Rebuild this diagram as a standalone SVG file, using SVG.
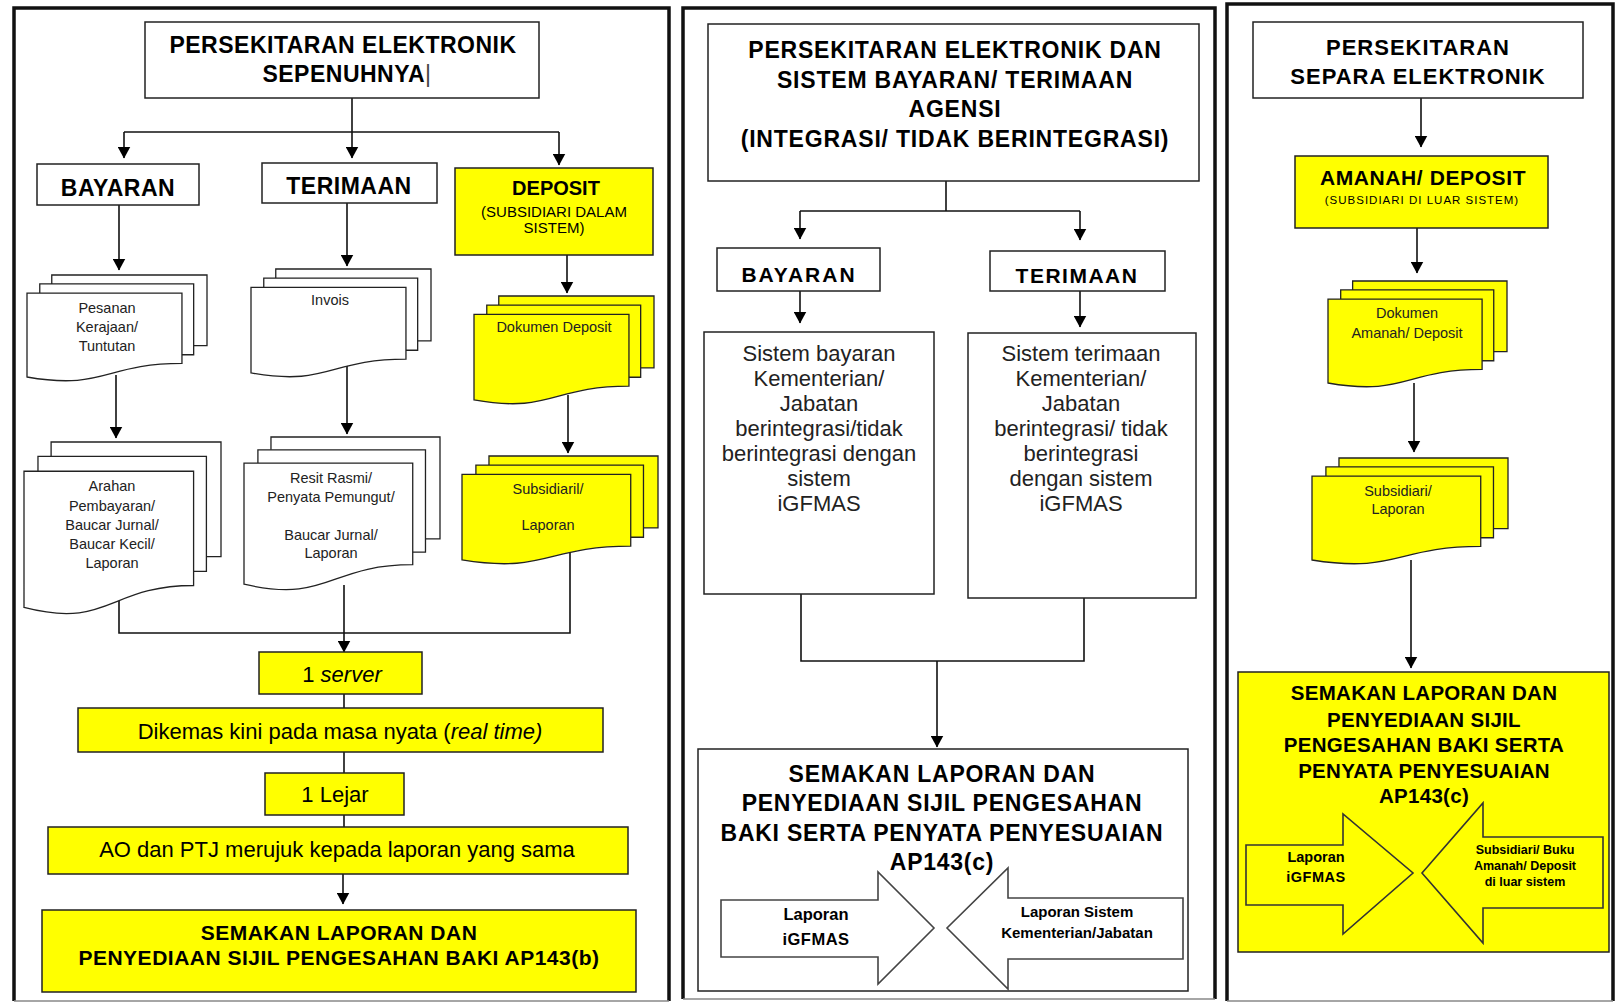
<svg xmlns="http://www.w3.org/2000/svg" xmlns:xlink="http://www.w3.org/1999/xlink" width="1617" height="1003" viewBox="0 0 1617 1003">
<style>
text{font-family:"Liberation Sans",Arial,sans-serif;fill:#000;text-anchor:middle}
.b{font-weight:bold}
.it{font-style:italic}
.frame{fill:none;stroke:#111;stroke-width:3.5}
.fbot{fill:none;stroke:#888;stroke-width:1.5}
.box{fill:#fff;stroke:#222;stroke-width:1.5}
.ybox{fill:#ff0;stroke:#222;stroke-width:1.5}
.doc{fill:#fff;stroke:#222;stroke-width:1.3}
.ydoc{fill:#ff0;stroke:#222;stroke-width:1.3}
.conn{fill:none;stroke:#111;stroke-width:1.6}
.arr{marker-end:url(#ah)}
.big{fill:#fff;stroke:#444;stroke-width:1.6}
.ybig{fill:#ff0;stroke:#333;stroke-width:1.6}
.dt{font-size:14.5px;fill:#222}
.st{font-size:22px;fill:#222}
</style>
<defs>
<marker id="ah" viewBox="0 0 12 13" refX="11.5" refY="6.5" markerWidth="12" markerHeight="13" markerUnits="userSpaceOnUse" orient="auto">
<path d="M0,0L12,6.5L0,13z" fill="#000"/>
</marker>
<symbol id="mdoc" viewBox="0 0 21600 21600" preserveAspectRatio="none" style="overflow:visible">
<path vector-effect="non-scaling-stroke" d="M2972,0H21600V14392H2972Z"/>
<path vector-effect="non-scaling-stroke" d="M1532,1815H20000V16252H1532Z"/>
<path vector-effect="non-scaling-stroke" d="M0,3675H18595V18022C9298,18022 9298,23542 0,20782Z"/>
</symbol>
</defs>
<rect x="0" y="0" width="1617" height="1003" fill="#fff"/>

<g id="frames">
<path class="frame" d="M14,1001V8H669V1001"/>
<path class="fbot" d="M14,1001H669"/>
<path class="frame" d="M683,999V8H1215V999"/>
<path class="fbot" d="M683,999H1215"/>
<path class="frame" d="M1227,1001V4H1613V1001"/>
<path class="fbot" d="M1227,1001H1613"/>
</g>

<g id="connectors">
<path class="conn" d="M352,98V132"/>
<path class="conn" d="M124,132H559"/>
<path class="conn arr" d="M124,132V158"/>
<path class="conn arr" d="M352,132V158"/>
<path class="conn arr" d="M559,132V165"/>
<path class="conn arr" d="M119,205V270"/>
<path class="conn arr" d="M347,203V266"/>
<path class="conn arr" d="M567,255V293"/>
<path class="conn arr" d="M116,375V438"/>
<path class="conn arr" d="M347,365V434"/>
<path class="conn arr" d="M568,395V453"/>
<path class="conn" d="M119,595V633H570V550"/>
<path class="conn arr" d="M344,585V652"/>
<path class="conn" d="M344,694V708"/>
<path class="conn" d="M344,752V773"/>
<path class="conn" d="M344,815V827"/>
<path class="conn arr" d="M343,874V904"/>

<path class="conn" d="M946,181V211"/>
<path class="conn" d="M800,211H1080"/>
<path class="conn arr" d="M800,211V239"/>
<path class="conn arr" d="M1080,211V240"/>
<path class="conn arr" d="M800,291V323"/>
<path class="conn arr" d="M1080,291V327"/>
<path class="conn" d="M801,594V661H1084V598"/>
<path class="conn arr" d="M937,661V747"/>

<path class="conn arr" d="M1421,98V147"/>
<path class="conn arr" d="M1417,228V273"/>
<path class="conn arr" d="M1414,383V452"/>
<path class="conn arr" d="M1411,560V668"/>
</g>

<!-- Panel 1 -->
<g id="p1-title">
<rect class="box" x="145" y="22" width="394" height="76"/>
<text class="b" x="343" y="53" font-size="23" letter-spacing="0.5">PERSEKITARAN ELEKTRONIK</text>
<text class="b" x="347" y="82" font-size="23" letter-spacing="0.5">SEPENUHNYA<tspan font-weight="normal" fill="#444">|</tspan></text>
</g>
<g id="p1-bayaran">
<rect class="box" x="37" y="164" width="162" height="41"/>
<text class="b" x="118" y="196" font-size="23" letter-spacing="0.5">BAYARAN</text>
</g>
<g id="p1-terimaan">
<rect class="box" x="262" y="163" width="175" height="40"/>
<text class="b" x="349" y="194" font-size="23" letter-spacing="0.5">TERIMAAN</text>
</g>
<g id="p1-deposit">
<rect class="ybox" x="455" y="168" width="198" height="87"/>
<text class="b" x="556" y="195" font-size="20">DEPOSIT</text>
<text x="554" y="217" font-size="15" fill="#222">(SUBSIDIARI DALAM</text>
<text x="554" y="233" font-size="15" fill="#222">SISTEM)</text>
</g>
<g id="p1-pesanan">
<use xlink:href="#mdoc" href="#mdoc" class="doc" x="27" y="275" width="180" height="106"/>
<text class="dt" x="107" y="313">Pesanan</text>
<text class="dt" x="107" y="332">Kerajaan/</text>
<text class="dt" x="107" y="351">Tuntutan</text>
</g>
<g id="p1-invois">
<use xlink:href="#mdoc" href="#mdoc" class="doc" x="251" y="269" width="180" height="108"/>
<text class="dt" x="330" y="305">Invois</text>
</g>
<g id="p1-dokdeposit">
<use xlink:href="#mdoc" href="#mdoc" class="ydoc" x="474" y="296" width="180" height="108"/>
<text class="dt" x="554" y="332">Dokumen Deposit</text>
</g>
<g id="p1-arahan">
<use xlink:href="#mdoc" href="#mdoc" class="doc" x="24" y="442" width="197" height="172"/>
<text class="dt" x="112" y="491">Arahan</text>
<text class="dt" x="112" y="511">Pembayaran/</text>
<text class="dt" x="112" y="530">Baucar Jurnal/</text>
<text class="dt" x="112" y="549">Baucar Kecil/</text>
<text class="dt" x="112" y="568">Laporan</text>
</g>
<g id="p1-resit">
<use xlink:href="#mdoc" href="#mdoc" class="doc" x="244" y="437" width="196" height="153"/>
<text class="dt" x="331" y="483">Resit Rasmi/</text>
<text class="dt" x="331" y="502">Penyata Pemungut/</text>
<text class="dt" x="331" y="540">Baucar Jurnal/</text>
<text class="dt" x="331" y="558">Laporan</text>
</g>
<g id="p1-subsidiaril">
<use xlink:href="#mdoc" href="#mdoc" class="ydoc" x="462" y="456" width="196" height="108"/>
<text class="dt" x="548" y="494">Subsidiaril/</text>
<text class="dt" x="548" y="530">Laporan</text>
</g>
<g id="p1-server">
<rect class="ybox" x="259" y="652" width="163" height="42"/>
<text x="342" y="682" font-size="22">1 <tspan class="it">server</tspan></text>
</g>
<g id="p1-dikemas">
<rect class="ybox" x="78" y="708" width="525" height="44"/>
<text x="340" y="739" font-size="22">Dikemas kini pada masa nyata (<tspan class="it">real time)</tspan></text>
</g>
<g id="p1-lejar">
<rect class="ybox" x="265" y="773" width="139" height="42"/>
<text x="335" y="802" font-size="22">1 Lejar</text>
</g>
<g id="p1-ao">
<rect class="ybox" x="48" y="827" width="580" height="47"/>
<text x="337" y="857" font-size="22">AO dan PTJ merujuk kepada laporan yang sama</text>
</g>
<g id="p1-semakan">
<rect class="ybox" x="42" y="910" width="594" height="82"/>
<text class="b" x="339" y="940" font-size="21" letter-spacing="0.5">SEMAKAN LAPORAN DAN</text>
<text class="b" x="339" y="965" font-size="21" letter-spacing="0.5">PENYEDIAAN SIJIL PENGESAHAN BAKI AP143(b)</text>
</g>

<!-- Panel 2 -->
<g id="p2-title">
<rect class="box" x="708" y="24" width="491" height="157"/>
<text class="b" x="955" y="58" font-size="23" letter-spacing="0.8">PERSEKITARAN ELEKTRONIK DAN</text>
<text class="b" x="955" y="88" font-size="23" letter-spacing="0.8">SISTEM BAYARAN/ TERIMAAN</text>
<text class="b" x="955" y="117" font-size="23" letter-spacing="0.8">AGENSI</text>
<text class="b" x="955" y="147" font-size="23" letter-spacing="0.8">(INTEGRASI/ TIDAK BERINTEGRASI)</text>
</g>
<g id="p2-bayaran">
<rect class="box" x="717" y="248" width="163" height="43"/>
<text class="b" x="799" y="282" font-size="21" letter-spacing="2">BAYARAN</text>
</g>
<g id="p2-terimaan">
<rect class="box" x="990" y="251" width="175" height="40"/>
<text class="b" x="1077" y="283" font-size="21" letter-spacing="1.5">TERIMAAN</text>
</g>
<g id="p2-sistem-bayaran">
<rect class="box" x="704" y="332" width="230" height="262"/>
<text class="st" x="819" y="361">Sistem bayaran</text>
<text class="st" x="819" y="386">Kementerian/</text>
<text class="st" x="819" y="411">Jabatan</text>
<text class="st" x="819" y="436">berintegrasi/tidak</text>
<text class="st" x="819" y="461">berintegrasi dengan</text>
<text class="st" x="819" y="486">sistem</text>
<text class="st" x="819" y="511">iGFMAS</text>
</g>
<g id="p2-sistem-terimaan">
<rect class="box" x="968" y="333" width="228" height="265"/>
<text class="st" x="1081" y="361">Sistem terimaan</text>
<text class="st" x="1081" y="386">Kementerian/</text>
<text class="st" x="1081" y="411">Jabatan</text>
<text class="st" x="1081" y="436">berintegrasi/ tidak</text>
<text class="st" x="1081" y="461">berintegrasi</text>
<text class="st" x="1081" y="486">dengan sistem</text>
<text class="st" x="1081" y="511">iGFMAS</text>
</g>
<g id="p2-semakan">
<rect class="box" x="698" y="749" width="490" height="242"/>
<text class="b" x="942" y="782" font-size="23" letter-spacing="0.75">SEMAKAN LAPORAN DAN</text>
<text class="b" x="942" y="811" font-size="23" letter-spacing="0.75">PENYEDIAAN SIJIL PENGESAHAN</text>
<text class="b" x="942" y="841" font-size="23" letter-spacing="0.75">BAKI SERTA PENYATA PENYESUAIAN</text>
<text class="b" x="942" y="870" font-size="23" letter-spacing="0.75">AP143(c)</text>
</g>
<g id="p2-laporan-igfmas">
<polygon class="big" points="721,900 878,900 878,872 934,928 878,984 878,957 721,957"/>
<text class="b" x="816" y="920" font-size="16.5">Laporan</text>
<text class="b" x="816" y="945" font-size="16.5" letter-spacing="0.5">iGFMAS</text>
</g>
<g id="p2-laporan-sistem">
<polygon class="big" points="1183,898 1008,898 1008,868 947,928 1008,989 1008,959 1183,959"/>
<text class="b" x="1077" y="917" font-size="15">Laporan Sistem</text>
<text class="b" x="1077" y="938" font-size="15">Kementerian/Jabatan</text>
</g>

<!-- Panel 3 -->
<g id="p3-title">
<rect class="box" x="1253" y="22" width="330" height="76"/>
<text class="b" x="1418" y="55" font-size="22" letter-spacing="1">PERSEKITARAN</text>
<text class="b" x="1418" y="84" font-size="22" letter-spacing="1">SEPARA ELEKTRONIK</text>
</g>
<g id="p3-amanah">
<rect class="ybox" x="1295" y="156" width="253" height="72"/>
<text class="b" x="1423" y="185" font-size="21" letter-spacing="0.6">AMANAH/ DEPOSIT</text>
<text x="1422" y="204" font-size="11.5" letter-spacing="1" fill="#333">(SUBSIDIARI DI LUAR SISTEM)</text>
</g>
<g id="p3-dokamanah">
<use xlink:href="#mdoc" href="#mdoc" class="ydoc" x="1328" y="281" width="179" height="106"/>
<text class="dt" x="1407" y="318">Dokumen</text>
<text class="dt" x="1407" y="338">Amanah/ Deposit</text>
</g>
<g id="p3-subsidiari">
<use xlink:href="#mdoc" href="#mdoc" class="ydoc" x="1312" y="458" width="196" height="106"/>
<text class="dt" x="1398" y="496">Subsidiari/</text>
<text class="dt" x="1398" y="514">Laporan</text>
</g>
<g id="p3-semakan">
<rect class="ybox" x="1238" y="672" width="371" height="280"/>
<text class="b" x="1424" y="700" font-size="20.5" letter-spacing="0.3">SEMAKAN LAPORAN DAN</text>
<text class="b" x="1424" y="727" font-size="20.5" letter-spacing="0.3">PENYEDIAAN SIJIL</text>
<text class="b" x="1424" y="752" font-size="20.5" letter-spacing="0.3">PENGESAHAN BAKI SERTA</text>
<text class="b" x="1424" y="778" font-size="20.5" letter-spacing="0.3">PENYATA PENYESUAIAN</text>
<text class="b" x="1424" y="803" font-size="20.5" letter-spacing="0.3">AP143(c)</text>
</g>
<g id="p3-laporan-igfmas">
<polygon class="ybig" points="1246,845 1343,845 1343,814 1413,873 1343,934 1343,905 1246,905"/>
<text class="b" x="1316" y="862" font-size="14.5">Laporan</text>
<text class="b" x="1316" y="882" font-size="14.5" letter-spacing="0.5">iGFMAS</text>
</g>
<g id="p3-subsidiari-buku">
<polygon class="ybig" points="1603,837 1483,837 1483,803 1422,873 1483,943 1483,908 1603,908"/>
<text class="b" x="1525" y="854" font-size="12.5">Subsidiari/ Buku</text>
<text class="b" x="1525" y="870" font-size="12.5">Amanah/ Deposit</text>
<text class="b" x="1525" y="886" font-size="12.5">di luar sistem</text>
</g>
</svg>
